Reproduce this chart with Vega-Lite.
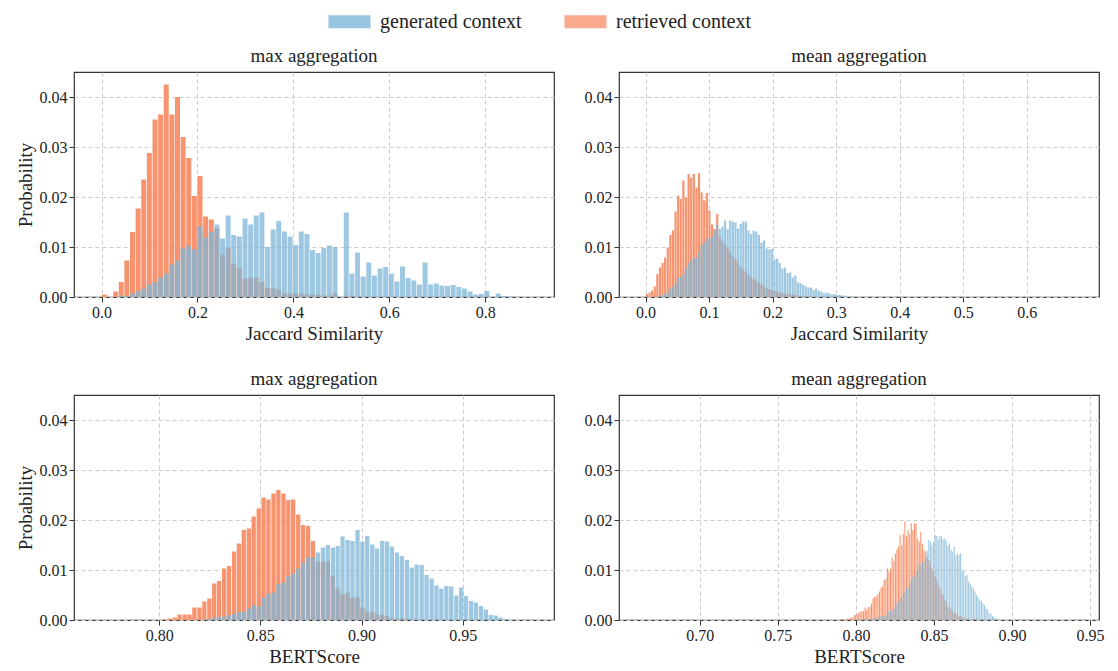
{
  "$schema": "https://vega.github.io/schema/vega-lite/v6.json",
  "background": "white",
  "padding": {"left": 15, "top": 8, "right": 5, "bottom": 5},
  "config": {
    "font": "Liberation Serif",
    "view": {"stroke": "#333", "strokeWidth": 1.2},
    "axis": {"labelFont": "Liberation Serif", "titleFont": "Liberation Serif", "labelFontSize": 16, "titleFontSize": 19, "titleFontWeight": "normal", "labelColor": "#222", "titleColor": "#222", "gridDash": [4, 3], "gridColor": "#cccccc", "domain": false, "tickColor": "#333", "tickSize": 5},
    "title": {"font": "Liberation Serif", "fontSize": 19, "fontWeight": "normal", "color": "#222", "offset": 6},
    "legend": {"title": null, "direction": "horizontal", "labelFont": "Liberation Serif", "labelFontSize": 20, "labelColor": "#222", "symbolType": "M-1.6,-0.5H1.6V0.5H-1.6Z", "symbolSize": 690, "symbolStrokeWidth": 0, "symbolOpacity": 0.8, "columnPadding": 42, "labelOffset": 17}
  },
  "datasets": {
    "tl": [
      {"x":0.0059,"g":0,"r":0.0005},{"x":0.0176,"g":0,"r":0},{"x":0.0294,"g":0,"r":0.0011},{"x":0.0411,"g":0.0003,"r":0.003},
      {"x":0.0528,"g":0.0002,"r":0.0073},{"x":0.0646,"g":0.0007,"r":0.013},{"x":0.0763,"g":0.0012,"r":0.0177},{"x":0.088,"g":0.0017,"r":0.0235},
      {"x":0.0997,"g":0.0025,"r":0.0288},{"x":0.1115,"g":0.003,"r":0.0355},{"x":0.1232,"g":0.0039,"r":0.0365},{"x":0.1349,"g":0.0047,"r":0.0425},
      {"x":0.1467,"g":0.0065,"r":0.0365},{"x":0.1584,"g":0.0073,"r":0.04},{"x":0.1701,"g":0.0097,"r":0.032},{"x":0.1819,"g":0.0103,"r":0.0278},
      {"x":0.1936,"g":0.0095,"r":0.0202},{"x":0.2053,"g":0.0141,"r":0.0242},{"x":0.217,"g":0.0119,"r":0.0161},{"x":0.2288,"g":0.0131,"r":0.0155},
      {"x":0.2405,"g":0.0145,"r":0.0137},{"x":0.2522,"g":0.0117,"r":0.0085},{"x":0.264,"g":0.0163,"r":0.0098},{"x":0.2757,"g":0.0124,"r":0.0067},
      {"x":0.2874,"g":0.0121,"r":0.0058},{"x":0.2992,"g":0.0157,"r":0.0037},{"x":0.3109,"g":0.0145,"r":0.0039},{"x":0.3226,"g":0.0163,"r":0.0038},
      {"x":0.3343,"g":0.0169,"r":0.003},{"x":0.3461,"g":0.01,"r":0.0018},{"x":0.3578,"g":0.0135,"r":0.0018},{"x":0.3695,"g":0.0152,"r":0.0015},
      {"x":0.3813,"g":0.0131,"r":0.0007},{"x":0.393,"g":0.0121,"r":0.0007},{"x":0.4047,"g":0.0104,"r":0.0007},{"x":0.4165,"g":0.0131,"r":0.0007},
      {"x":0.4282,"g":0.0126,"r":0.0005},{"x":0.4399,"g":0.0094,"r":0.0004},{"x":0.4516,"g":0.0088,"r":0.0005},{"x":0.4634,"g":0.0098,"r":0.0003},
      {"x":0.4751,"g":0.0103,"r":0.0003},{"x":0.4868,"g":0.01,"r":0.0007},{"x":0.4986,"g":0,"r":0},{"x":0.5103,"g":0.0169,"r":0.0003},
      {"x":0.522,"g":0.0047,"r":0.0002},{"x":0.5338,"g":0.0089,"r":0},{"x":0.5455,"g":0.0041,"r":0},{"x":0.5572,"g":0.0069,"r":0},
      {"x":0.5689,"g":0.0043,"r":0},{"x":0.5807,"g":0.0057,"r":0},{"x":0.5924,"g":0.006,"r":0},{"x":0.6041,"g":0.0047,"r":0},
      {"x":0.6159,"g":0.0031,"r":0},{"x":0.6276,"g":0.0061,"r":0},{"x":0.6393,"g":0.0038,"r":0},{"x":0.6511,"g":0.0033,"r":0},
      {"x":0.6628,"g":0.0025,"r":0},{"x":0.6745,"g":0.0069,"r":0},{"x":0.6862,"g":0.0025,"r":0},{"x":0.698,"g":0.0027,"r":0},
      {"x":0.7097,"g":0.0023,"r":0},{"x":0.7214,"g":0.0022,"r":0},{"x":0.7332,"g":0.0024,"r":0},{"x":0.7449,"g":0.002,"r":0},
      {"x":0.7566,"g":0.0017,"r":0},{"x":0.7684,"g":0.0011,"r":0},{"x":0.7801,"g":0.0005,"r":0},{"x":0.7918,"g":0.0006,"r":0},
      {"x":0.8035,"g":0.0012,"r":0},{"x":0.8153,"g":0,"r":0},{"x":0.827,"g":0.0007,"r":0},{"x":0.8387,"g":0.0002,"r":0},
      {"x":0.8505,"g":0.0001,"r":0}
    ],
    "tr": [
      {"x":0.0021,"g":0,"r":0.0006},{"x":0.0062,"g":0,"r":0.0009},{"x":0.0103,"g":0,"r":0.0013},{"x":0.0144,"g":0,"r":0.0021},
      {"x":0.0185,"g":0,"r":0.0046},{"x":0.0226,"g":0.0003,"r":0.0059},{"x":0.0267,"g":0.0004,"r":0.0068},{"x":0.0308,"g":0.0007,"r":0.0079},
      {"x":0.0349,"g":0.0009,"r":0.0099},{"x":0.039,"g":0.0017,"r":0.0124},{"x":0.0431,"g":0.0021,"r":0.0133},{"x":0.0472,"g":0.0028,"r":0.0171},
      {"x":0.0513,"g":0.0039,"r":0.0203},{"x":0.0554,"g":0.004,"r":0.0196},{"x":0.0595,"g":0.0046,"r":0.0233},{"x":0.0636,"g":0.0058,"r":0.0199},
      {"x":0.0677,"g":0.0068,"r":0.0246},{"x":0.0718,"g":0.0073,"r":0.0239},{"x":0.0759,"g":0.0079,"r":0.0246},{"x":0.08,"g":0.0078,"r":0.0219},
      {"x":0.0841,"g":0.0089,"r":0.0248},{"x":0.0882,"g":0.0104,"r":0.0209},{"x":0.0923,"g":0.0109,"r":0.0193},{"x":0.0964,"g":0.0116,"r":0.0208},
      {"x":0.1005,"g":0.0118,"r":0.0173},{"x":0.1046,"g":0.0121,"r":0.0145},{"x":0.1087,"g":0.0133,"r":0.0136},{"x":0.1128,"g":0.0144,"r":0.0166},
      {"x":0.1169,"g":0.0136,"r":0.012},{"x":0.121,"g":0.0141,"r":0.0112},{"x":0.1251,"g":0.0153,"r":0.0106},{"x":0.1292,"g":0.0136,"r":0.0098},
      {"x":0.1333,"g":0.0153,"r":0.009},{"x":0.1374,"g":0.0151,"r":0.0082},{"x":0.1415,"g":0.0149,"r":0.0076},{"x":0.1456,"g":0.0137,"r":0.0068},
      {"x":0.1497,"g":0.0146,"r":0.006},{"x":0.1538,"g":0.0151,"r":0.0055},{"x":0.1579,"g":0.0151,"r":0.005},{"x":0.162,"g":0.0133,"r":0.0045},
      {"x":0.1661,"g":0.0126,"r":0.004},{"x":0.1702,"g":0.0133,"r":0.0036},{"x":0.1743,"g":0.0131,"r":0.0033},{"x":0.1784,"g":0.0124,"r":0.0029},
      {"x":0.1825,"g":0.0109,"r":0.0025},{"x":0.1866,"g":0.0113,"r":0.0021},{"x":0.1907,"g":0.0097,"r":0.0018},{"x":0.1948,"g":0.0095,"r":0.0016},
      {"x":0.1989,"g":0.0096,"r":0.0014},{"x":0.203,"g":0.0076,"r":0.0012},{"x":0.2071,"g":0.0077,"r":0.001},{"x":0.2112,"g":0.0068,"r":0.0009},
      {"x":0.2153,"g":0.0057,"r":0.0008},{"x":0.2194,"g":0.0059,"r":0.0007},{"x":0.2235,"g":0.0048,"r":0.0006},{"x":0.2276,"g":0.0049,"r":0.0005},
      {"x":0.2317,"g":0.0039,"r":0.0004},{"x":0.2358,"g":0.0043,"r":0.0004},{"x":0.2399,"g":0.0029,"r":0.0003},{"x":0.244,"g":0.0028,"r":0.0002},
      {"x":0.2481,"g":0.0024,"r":0.0002},{"x":0.2522,"g":0.0021,"r":0.0001},{"x":0.2563,"g":0.0019,"r":0.0001},{"x":0.2604,"g":0.0019,"r":0.0001},
      {"x":0.2645,"g":0.0014,"r":0},{"x":0.2686,"g":0.0017,"r":0},{"x":0.2727,"g":0.0013,"r":0},{"x":0.2768,"g":0.0011,"r":0},
      {"x":0.2809,"g":0.0007,"r":0},{"x":0.285,"g":0.0009,"r":0},{"x":0.2891,"g":0.0007,"r":0},{"x":0.2932,"g":0.0005,"r":0},
      {"x":0.2973,"g":0.0006,"r":0},{"x":0.3014,"g":0.0004,"r":0},{"x":0.3055,"g":0.0004,"r":0},{"x":0.3096,"g":0.0003,"r":0},
      {"x":0.3137,"g":0.0003,"r":0},{"x":0.3178,"g":0.0001,"r":0},{"x":0.3219,"g":0.0001,"r":0},{"x":0.326,"g":0.0001,"r":0}
    ],
    "bl": [
      {"x":0.8028,"g":0,"r":0.0001},{"x":0.8052,"g":0,"r":0.0003},{"x":0.8077,"g":0,"r":0.0005},{"x":0.8101,"g":0,"r":0.0011},
      {"x":0.8126,"g":0,"r":0.0011},{"x":0.815,"g":0,"r":0.0011},{"x":0.8174,"g":0,"r":0.0025},{"x":0.8199,"g":0,"r":0.0025},
      {"x":0.8223,"g":0.0001,"r":0.0037},{"x":0.8248,"g":0.0002,"r":0.0043},{"x":0.8272,"g":0.0005,"r":0.0073},{"x":0.8296,"g":0.0006,"r":0.0078},
      {"x":0.8321,"g":0.0007,"r":0.0103},{"x":0.8345,"g":0.0009,"r":0.0108},{"x":0.837,"g":0.0012,"r":0.0137},{"x":0.8394,"g":0.0016,"r":0.0153},
      {"x":0.8418,"g":0.0017,"r":0.018},{"x":0.8443,"g":0.0023,"r":0.0183},{"x":0.8467,"g":0.003,"r":0.0207},{"x":0.8492,"g":0.0027,"r":0.0223},
      {"x":0.8516,"g":0.0045,"r":0.0245},{"x":0.854,"g":0.0052,"r":0.0241},{"x":0.8565,"g":0.0055,"r":0.0253},{"x":0.8589,"g":0.0072,"r":0.026},
      {"x":0.8614,"g":0.0075,"r":0.0253},{"x":0.8638,"g":0.0088,"r":0.024},{"x":0.8662,"g":0.0093,"r":0.0241},{"x":0.8687,"g":0.0103,"r":0.0211},
      {"x":0.8711,"g":0.0115,"r":0.019},{"x":0.8736,"g":0.0125,"r":0.0188},{"x":0.876,"g":0.0125,"r":0.0158},{"x":0.8784,"g":0.0135,"r":0.0117},
      {"x":0.8809,"g":0.0145,"r":0.0117},{"x":0.8833,"g":0.015,"r":0.0117},{"x":0.8858,"g":0.0145,"r":0.0088},{"x":0.8882,"g":0.0148,"r":0.0063},
      {"x":0.8906,"g":0.0167,"r":0.0052},{"x":0.8931,"g":0.016,"r":0.0055},{"x":0.8955,"g":0.0158,"r":0.0045},{"x":0.898,"g":0.018,"r":0.0045},
      {"x":0.9004,"g":0.0157,"r":0.0025},{"x":0.9028,"g":0.0168,"r":0.0017},{"x":0.9053,"g":0.0151,"r":0.0017},{"x":0.9077,"g":0.0143,"r":0.0011},
      {"x":0.9102,"g":0.0158,"r":0.001},{"x":0.9126,"g":0.0157,"r":0.0008},{"x":0.915,"g":0.0147,"r":0.0004},{"x":0.9175,"g":0.0135,"r":0.0003},
      {"x":0.9199,"g":0.0128,"r":0.0004},{"x":0.9224,"g":0.012,"r":0.0003},{"x":0.9248,"g":0.0105,"r":0.0001},{"x":0.9272,"g":0.0111,"r":0},
      {"x":0.9297,"g":0.011,"r":0},{"x":0.9321,"g":0.009,"r":0},{"x":0.9346,"g":0.0083,"r":0},{"x":0.937,"g":0.0069,"r":0},
      {"x":0.9394,"g":0.0063,"r":0},{"x":0.9419,"g":0.0068,"r":0},{"x":0.9443,"g":0.0067,"r":0},{"x":0.9468,"g":0.0049,"r":0},
      {"x":0.9492,"g":0.0065,"r":0},{"x":0.9516,"g":0.0048,"r":0},{"x":0.9541,"g":0.0038,"r":0},{"x":0.9565,"g":0.0035,"r":0},
      {"x":0.959,"g":0.0028,"r":0},{"x":0.9614,"g":0.0021,"r":0},{"x":0.9638,"g":0.001,"r":0},{"x":0.9663,"g":0.0009,"r":0},
      {"x":0.9687,"g":0.0005,"r":0},{"x":0.9712,"g":0.0002,"r":0}
    ],
    "br": [
      {"x":0.7906,"g":0,"r":0.0001},{"x":0.7916,"g":0,"r":0.0001},{"x":0.7926,"g":0,"r":0.0002},{"x":0.7937,"g":0,"r":0.0002},
      {"x":0.7947,"g":0,"r":0.0003},{"x":0.7957,"g":0,"r":0.0003},{"x":0.7967,"g":0,"r":0.0004},{"x":0.7977,"g":0,"r":0.0005},
      {"x":0.7988,"g":0,"r":0.0009},{"x":0.7998,"g":0,"r":0.001},{"x":0.8008,"g":0.0001,"r":0.0012},{"x":0.8018,"g":0.0001,"r":0.0014},
      {"x":0.8028,"g":0.0001,"r":0.0017},{"x":0.8039,"g":0.0002,"r":0.0017},{"x":0.8049,"g":0.0002,"r":0.0018},{"x":0.8059,"g":0.0002,"r":0.0025},
      {"x":0.8069,"g":0.0002,"r":0.002},{"x":0.8079,"g":0.0003,"r":0.0025},{"x":0.809,"g":0.0002,"r":0.0027},{"x":0.81,"g":0.0003,"r":0.0033},
      {"x":0.811,"g":0.0003,"r":0.0043},{"x":0.812,"g":0.0004,"r":0.0047},{"x":0.813,"g":0.0005,"r":0.0047},{"x":0.8141,"g":0.0005,"r":0.0052},
      {"x":0.8151,"g":0.0007,"r":0.0057},{"x":0.8161,"g":0.0008,"r":0.0065},{"x":0.8171,"g":0.0008,"r":0.0067},{"x":0.8181,"g":0.0008,"r":0.008},
      {"x":0.8192,"g":0.001,"r":0.0083},{"x":0.8202,"g":0.0012,"r":0.0103},{"x":0.8212,"g":0.0017,"r":0.0097},{"x":0.8222,"g":0.002,"r":0.0103},
      {"x":0.8232,"g":0.0021,"r":0.0125},{"x":0.8243,"g":0.0025,"r":0.0118},{"x":0.8253,"g":0.0027,"r":0.0133},{"x":0.8263,"g":0.0033,"r":0.0141},
      {"x":0.8273,"g":0.0037,"r":0.0147},{"x":0.8283,"g":0.0045,"r":0.017},{"x":0.8294,"g":0.0045,"r":0.015},{"x":0.8304,"g":0.0053,"r":0.0172},
      {"x":0.8314,"g":0.0057,"r":0.0197},{"x":0.8324,"g":0.0065,"r":0.0167},{"x":0.8334,"g":0.0065,"r":0.018},{"x":0.8345,"g":0.0073,"r":0.0172},
      {"x":0.8355,"g":0.0077,"r":0.0193},{"x":0.8365,"g":0.0087,"r":0.018},{"x":0.8375,"g":0.0087,"r":0.0193},{"x":0.8385,"g":0.0097,"r":0.0193},
      {"x":0.8396,"g":0.0101,"r":0.0163},{"x":0.8406,"g":0.011,"r":0.0157},{"x":0.8416,"g":0.0111,"r":0.0177},{"x":0.8426,"g":0.0117,"r":0.0153},
      {"x":0.8436,"g":0.0118,"r":0.014},{"x":0.8447,"g":0.0127,"r":0.0137},{"x":0.8457,"g":0.0139,"r":0.0125},{"x":0.8467,"g":0.016,"r":0.012},
      {"x":0.8477,"g":0.0157,"r":0.0115},{"x":0.8487,"g":0.015,"r":0.0103},{"x":0.8498,"g":0.0157,"r":0.0097},{"x":0.8508,"g":0.017,"r":0.0087},
      {"x":0.8518,"g":0.0168,"r":0.008},{"x":0.8528,"g":0.0161,"r":0.007},{"x":0.8538,"g":0.0168,"r":0.0063},{"x":0.8549,"g":0.0167,"r":0.0053},
      {"x":0.8559,"g":0.0161,"r":0.005},{"x":0.8569,"g":0.0163,"r":0.004},{"x":0.8579,"g":0.0159,"r":0.0037},{"x":0.8589,"g":0.015,"r":0.0027},
      {"x":0.86,"g":0.0153,"r":0.0025},{"x":0.861,"g":0.0141,"r":0.0022},{"x":0.862,"g":0.0137,"r":0.0017},{"x":0.863,"g":0.0147,"r":0.0015},
      {"x":0.864,"g":0.013,"r":0.0013},{"x":0.8651,"g":0.0133,"r":0.0012},{"x":0.8661,"g":0.013,"r":0.0008},{"x":0.8671,"g":0.0133,"r":0.0008},
      {"x":0.8681,"g":0.0099,"r":0.0006},{"x":0.8691,"g":0.0097,"r":0.0005},{"x":0.8702,"g":0.0087,"r":0.0003},{"x":0.8712,"g":0.009,"r":0.0003},
      {"x":0.8722,"g":0.0077,"r":0.0002},{"x":0.8732,"g":0.0073,"r":0.0001},{"x":0.8742,"g":0.0068,"r":0.0001},{"x":0.8753,"g":0.0063,"r":0.0001},
      {"x":0.8763,"g":0.0057,"r":0.0001},{"x":0.8773,"g":0.005,"r":0.0001},{"x":0.8783,"g":0.0045,"r":0},{"x":0.8793,"g":0.0039,"r":0},
      {"x":0.8804,"g":0.0039,"r":0},{"x":0.8814,"g":0.0033,"r":0},{"x":0.8824,"g":0.003,"r":0},{"x":0.8834,"g":0.0023,"r":0},
      {"x":0.8844,"g":0.0021,"r":0},{"x":0.8855,"g":0.0013,"r":0},{"x":0.8865,"g":0.0013,"r":0},{"x":0.8875,"g":0.0008,"r":0},
      {"x":0.8885,"g":0.0005,"r":0},{"x":0.8895,"g":0.0003,"r":0},{"x":0.8906,"g":0.0003,"r":0},{"x":0.8916,"g":0.0001,"r":0}
    ]
  },
  "resolve": {"scale": {"color": "shared"}},
  "vconcat": [
    {
      "hconcat": [
        {
          "width": 480, "height": 225, "data": {"name": "tl"}, "title": "max aggregation",
          "encoding": {
            "x": {"field": "x", "type": "quantitative", "scale": {"domain": [-0.047, 0.933], "nice": false, "zero": false}, "axis": {"title": "Jaccard Similarity", "values": [0, 0.2, 0.4, 0.6, 0.8], "format": ".1f"}}
          },
          "layer": [
            {"mark": {"type": "bar", "width": 5, "opacity": 1}, "encoding": {"y": {"field": "r", "type": "quantitative", "scale": {"domain": [0, 0.045]}, "axis": {"title": "Probability", "values": [0, 0.01, 0.02, 0.03, 0.04], "format": ".2f"}}, "color": {"datum": "retrieved context", "type": "nominal", "scale": {"domain": ["generated context", "retrieved context"], "range": ["#7eb6d7", "#f7946f"]}, "legend": {"orient": "none", "legendX": 262, "legendY": -64}}}},
            {"mark": {"type": "bar", "width": 5, "opacity": 0.75}, "encoding": {"y": {"field": "g", "type": "quantitative"}, "color": {"datum": "generated context", "type": "nominal"}}}
          ]
        },
        {
          "width": 480, "height": 225, "data": {"name": "tr"}, "title": "mean aggregation",
          "encoding": {
            "x": {"field": "x", "type": "quantitative", "scale": {"domain": [-0.034, 0.706], "nice": false, "zero": false}, "axis": {"title": "Jaccard Similarity", "values": [0, 0.1, 0.2, 0.3, 0.4, 0.5, 0.6], "format": ".1f"}}
          },
          "layer": [
            {"mark": {"type": "bar", "width": 2.2}, "encoding": {"y": {"field": "r", "type": "quantitative", "scale": {"domain": [0, 0.045]}, "axis": {"title": null, "values": [0, 0.01, 0.02, 0.03, 0.04], "format": ".2f"}}, "color": {"datum": "retrieved context", "type": "nominal"}}},
            {"mark": {"type": "bar", "width": 2.2, "opacity": 0.75}, "encoding": {"y": {"field": "g", "type": "quantitative"}, "color": {"datum": "generated context", "type": "nominal"}}}
          ]
        }
      ],
      "spacing": 28
    },
    {
      "hconcat": [
        {
          "width": 480, "height": 225, "data": {"name": "bl"}, "title": "max aggregation",
          "encoding": {
            "x": {"field": "x", "type": "quantitative", "scale": {"domain": [0.7604, 0.9926], "nice": false, "zero": false}, "axis": {"title": "BERTScore", "values": [0.8, 0.85, 0.9, 0.95], "format": ".2f"}}
          },
          "layer": [
            {"mark": {"type": "bar", "width": 4.3}, "encoding": {"y": {"field": "r", "type": "quantitative", "scale": {"domain": [0, 0.045]}, "axis": {"title": "Probability", "values": [0, 0.01, 0.02, 0.03, 0.04], "format": ".2f"}}, "color": {"datum": "retrieved context", "type": "nominal"}}},
            {"mark": {"type": "bar", "width": 4.3, "opacity": 0.75}, "encoding": {"y": {"field": "g", "type": "quantitative"}, "color": {"datum": "generated context", "type": "nominal"}}}
          ]
        },
        {
          "width": 480, "height": 225, "data": {"name": "br"}, "title": "mean aggregation",
          "encoding": {
            "x": {"field": "x", "type": "quantitative", "scale": {"domain": [0.6515, 0.9525], "nice": false, "zero": false}, "axis": {"title": "BERTScore", "values": [0.7, 0.75, 0.8, 0.85, 0.9, 0.95], "format": ".2f"}}
          },
          "layer": [
            {"mark": {"type": "bar", "width": 1.1}, "encoding": {"y": {"field": "r", "type": "quantitative", "scale": {"domain": [0, 0.045]}, "axis": {"title": null, "values": [0, 0.01, 0.02, 0.03, 0.04], "format": ".2f"}}, "color": {"datum": "retrieved context", "type": "nominal"}}},
            {"mark": {"type": "bar", "width": 1.1, "opacity": 0.75}, "encoding": {"y": {"field": "g", "type": "quantitative"}, "color": {"datum": "generated context", "type": "nominal"}}}
          ]
        }
      ],
      "spacing": 28
    }
  ],
  "spacing": 25
}
